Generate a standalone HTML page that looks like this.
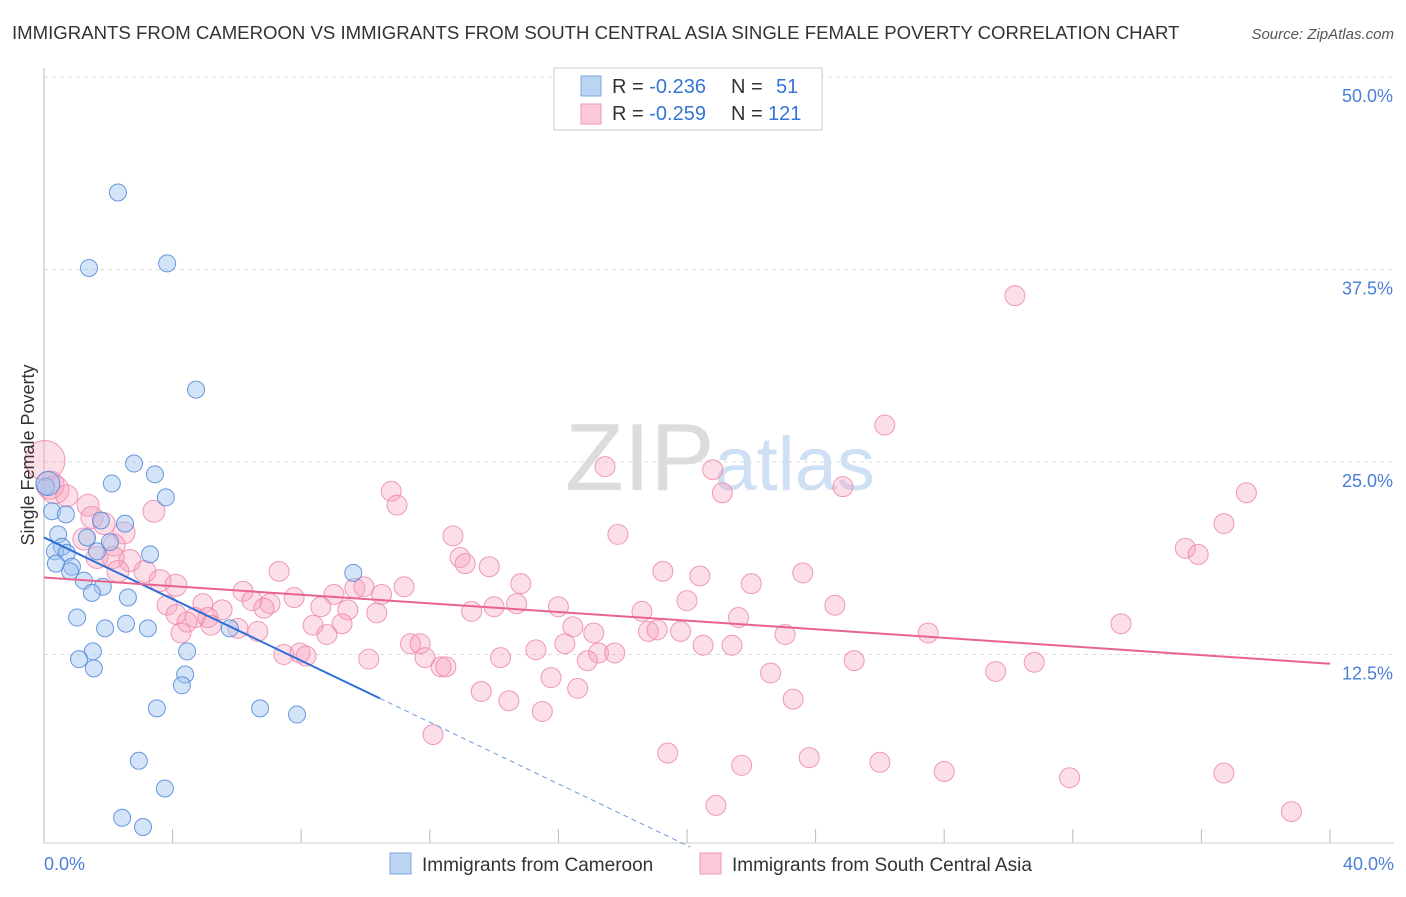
<!DOCTYPE html>
<html><head><meta charset="utf-8"><style>
body{margin:0;background:#fff;font-family:"Liberation Sans",sans-serif;}
svg text{font-family:"Liberation Sans",sans-serif;}
</style></head><body>
<svg id="chart" width="1406" height="892">
<text x="12" y="39" font-size="18.6" fill="#333">IMMIGRANTS FROM CAMEROON VS IMMIGRANTS FROM SOUTH CENTRAL ASIA SINGLE FEMALE POVERTY CORRELATION CHART</text>
<text x="1394" y="39" font-size="15" fill="#555" font-style="italic" text-anchor="end">Source: ZipAtlas.com</text>
<text x="720" y="490" font-size="96" fill="#ddd" text-anchor="middle" font-family="Liberation Serif"><tspan fill="#dcdcdc">ZIP</tspan><tspan fill="#cfe0f4" font-family="Liberation Sans" font-size="76">atlas</tspan></text>
<g id="grid"></g><g id="pts"></g><g id="lines"></g>
<text transform="translate(34,455) rotate(-90)" font-size="18" fill="#333" text-anchor="middle">Single Female Poverty</text>
<text x="44" y="870" font-size="18" fill="#4a7fd8">0.0%</text>
<text x="1394" y="870" font-size="18" fill="#4a7fd8" text-anchor="end">40.0%</text>
<g>
<rect x="554" y="68" width="268" height="62" fill="#fff" stroke="#ccc"/>
<rect x="581" y="76" width="20" height="20" fill="#bcd4f4" stroke="#7fa7e0"/>
<rect x="581" y="104" width="20" height="20" fill="#fbc9d8" stroke="#ee9ab4"/>
<text x="612" y="93" font-size="20" fill="#333">R = <tspan fill="#3575d6">-0.236</tspan><tspan x="731">N = </tspan><tspan x="776" fill="#3575d6">51</tspan></text>
<text x="612" y="120" font-size="20" fill="#333">R = <tspan fill="#3575d6">-0.259</tspan><tspan x="731">N = </tspan><tspan x="768" fill="#3575d6">121</tspan></text>
</g>
<g>
<rect x="390" y="853" width="21" height="21" fill="#bcd4f4" stroke="#7fa7e0"/>
<text x="422" y="871" font-size="19" fill="#333">Immigrants from Cameroon</text>
<rect x="700" y="853" width="21" height="21" fill="#fbc9d8" stroke="#ee9ab4"/>
<text x="732" y="871" font-size="19" fill="#333">Immigrants from South Central Asia</text>
</g>
</svg>
<script>
const yTicks=[12.5,25,37.5,50];
const yTickLabels=["12.5%","25.0%","37.5%","50.0%"];
const xTicks=[0,4,8,12,16,20,24,28,32,36,40];
const blueX=[2.30,1.40,3.83,4.73,2.80,3.45,2.11,3.79,0.06,0.25,0.68,2.52,1.77,0.44,1.34,0.56,0.34,0.71,1.65,2.05,3.30,0.37,0.87,0.81,1.24,1.83,1.49,2.61,9.62,1.03,2.55,1.90,3.23,5.78,1.52,4.45,1.09,1.55,4.39,4.29,3.51,6.72,7.87,2.95,3.76,2.43,3.08,0.12];
const blueY=[42.5,37.6,37.9,29.7,24.9,24.2,23.6,22.7,23.4,21.8,21.6,21.0,21.2,20.3,20.1,19.5,19.2,19.1,19.2,19.8,19.0,18.4,18.2,17.9,17.3,16.9,16.5,16.2,17.8,14.9,14.5,14.2,14.2,14.2,12.7,12.7,12.2,11.6,11.2,10.5,9.0,9.0,8.6,5.6,3.8,1.9,1.3,23.6];
const pinkX=[30.2,26.15,17.45,20.8,24.85,10.8,21.1,37.4,10.98,36.7,12.72,17.85,35.5,35.9,12.94,13.1,13.85,7.31,19.25,20.4,23.6,14.83,22.0,9.67,9.95,11.2,6.19,9.02,10.5,7.78,6.47,20.0,4.94,7.03,8.61,14.0,14.7,16.0,24.6,3.83,5.54,6.84,9.45,13.3,18.6,4.11,10.35,4.7,5.1,21.6,4.45,5.19,6.03,8.37,9.27,16.45,4.26,6.65,8.8,17.1,18.8,19.07,19.8,23.05,27.5,33.5,11.4,11.7,16.2,15.3,17.25,17.75,20.5,21.4,7.46,7.96,8.15,10.1,11.85,14.2,16.9,12.35,12.5,25.2,30.8,29.6,22.6,15.77,16.6,13.6,14.46,23.3,15.5,12.1,19.4,23.8,26.0,21.7,28.0,31.9,36.7,20.9,38.8,0.03,0.19,0.34,0.71,1.37,3.42,1.49,1.87,2.49,1.24,2.18,2.67,1.65,2.15,3.14,3.61,2.3,4.1];
const pinkY=[35.8,27.4,24.7,24.5,23.4,23.1,23.0,23.0,22.2,21.0,20.2,20.3,19.4,19.0,18.8,18.4,18.2,17.9,17.9,17.6,17.8,17.1,17.1,16.8,16.9,16.9,16.6,16.4,16.4,16.2,16.0,16.0,15.8,15.8,15.6,15.6,15.8,15.6,15.7,15.7,15.4,15.5,15.4,15.3,15.3,15.1,15.2,14.9,14.9,14.9,14.6,14.4,14.2,14.4,14.5,14.3,13.9,14.0,13.8,13.9,14.0,14.1,14.0,13.8,13.9,14.5,13.2,13.2,13.2,12.8,12.6,12.6,13.1,13.1,12.5,12.6,12.4,12.2,12.3,12.3,12.1,11.7,11.7,12.1,12.0,11.4,11.3,11.0,10.3,10.1,9.5,9.6,8.8,7.3,6.1,5.8,5.5,5.3,4.9,4.5,4.8,2.7,2.3,25.1,23.5,23.2,22.8,22.2,21.8,21.4,21.0,20.4,20.0,19.6,18.6,18.8,18.8,17.9,17.3,17.9,17.0];
const blueTrend=[20.1,-1.0];
const pinkTrend=[17.5,-0.14];
const NS="http://www.w3.org/2000/svg";
const xs=v=>44+v/40*1286;
const ys=v=>847-v/12.5*192.5;
function mk(tag,attrs,parent){const e=document.createElementNS(NS,tag);for(const k in attrs)e.setAttribute(k,attrs[k]);parent.appendChild(e);return e;}
const grid=document.getElementById('grid');
yTicks.forEach((t,i)=>{
 const l=mk('line',{x1:44,x2:1394,y1:ys(t),y2:ys(t),stroke:'#ddd','stroke-dasharray':'4,4'},grid);
 
 
 const tx=mk('text',{x:1393,y:ys(t)+25,'font-size':18,fill:'#4a7fd8','text-anchor':'end'},grid);
 tx.textContent=yTickLabels[i];
 
 
});
const ax=mk('line',{x1:44,x2:44,y1:68,y2:843,stroke:'#bbb'},grid);


const bx=mk('line',{x1:44,x2:1394,y1:843,y2:843,stroke:'#ccc'},grid);


xTicks.forEach(t=>{
 const l=mk('line',{x1:xs(t),x2:xs(t),y1:829,y2:843,stroke:'#bbb'},grid);
 
 
});
const pts=document.getElementById('pts');
pinkX.forEach((x,i)=>{
 const r=i===103?20:(x<0.5?14:(x<4.2&&pinkY[i]>16.9?11:10));
 const c=mk('circle',{cx:xs(x),cy:ys(pinkY[i]),r:r,fill:'rgba(245,160,190,0.35)',stroke:'rgba(236,130,165,0.8)','stroke-width':1},pts);
 
 
});
blueX.forEach((x,i)=>{
 const c=mk('circle',{cx:xs(x),cy:ys(blueY[i]),r:i===47?12:8.5,fill:'rgba(160,195,240,0.45)',stroke:'rgba(80,135,215,0.85)','stroke-width':1},pts);
 
 
});
const lines=document.getElementById('lines');
const bt=x=>blueTrend[0]+blueTrend[1]*x;
const pt=x=>pinkTrend[0]+pinkTrend[1]*x;
const b1=mk('line',{x1:xs(0),y1:ys(bt(0)),x2:xs(10.45),y2:ys(bt(10.45)),stroke:'#2d6fd6','stroke-width':2},lines);


const xEnd=-blueTrend[0]/blueTrend[1];
const b2=mk('line',{x1:xs(10.45),y1:ys(bt(10.45)),x2:xs(xEnd),y2:ys(0),stroke:'#6a9be0','stroke-width':1,'stroke-dasharray':'5,4'},lines);


const p1=mk('line',{x1:xs(0),y1:ys(pt(0)),x2:xs(40),y2:ys(pt(40)),stroke:'#e8648f','stroke-width':2},lines);


</script>
</body></html>
